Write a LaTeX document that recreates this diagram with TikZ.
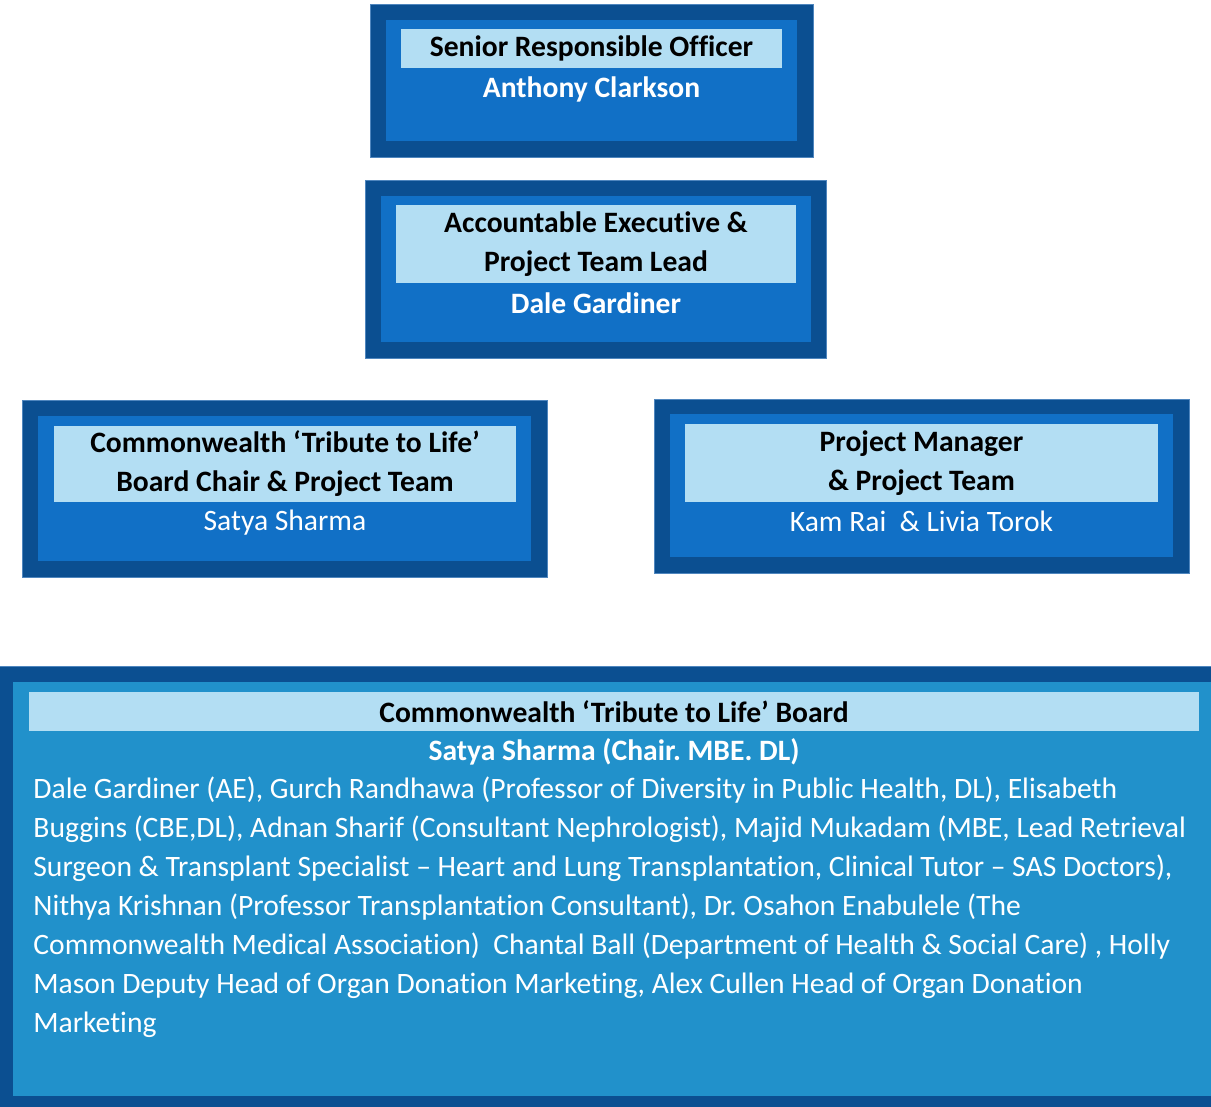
\documentclass[tikz,border=0pt]{standalone}
\usepackage{fontspec}
\setmainfont{Carlito}[Ligatures=NoCommon]
\frenchspacing
\definecolor{outerblue}{HTML}{0B4F91}
\definecolor{edgeblue}{HTML}{4F86BE}
\definecolor{innerblue}{HTML}{1170C6}
\definecolor{boardblue}{HTML}{2191CB}
\definecolor{bandblue}{HTML}{B3DEF3}
\tikzstyle{outerbox} = [rectangle, inner sep=0pt, fill=outerblue, draw=edgeblue, line width=0.4pt]
\tikzstyle{innerbox} = [rectangle, inner sep=0pt, fill=innerblue]
\tikzstyle{band} = [rectangle, inner sep=0pt, fill=bandblue, align=center, font=\bfseries]
\tikzstyle{namebold} = [inner sep=0pt, text=white, font=\bfseries]
\tikzstyle{nameplain} = [inner sep=0pt, text=white]

\begin{document}
\begin{tikzpicture}[x=0.5pt, y=-0.5pt]
    \fontsize{14.8pt}{19.5pt}\selectfont
    \useasboundingbox (0,0) rectangle (1211,1107);

    % Senior Responsible Officer
    \node(srobox) [outerbox, minimum width=221.5pt, minimum height=76.5pt] at (591.5,80.5) {};
    \node(sroinner) [innerbox, minimum width=205.5pt, minimum height=60.5pt] at (591.5,80.5) {};
    \node(srotitle) [band, minimum width=190.5pt, minimum height=19.5pt] at (591.5,48.5) {\raisebox{-1pt}{Senior Responsible Officer}};
    \node(sroname) [namebold] at (591.5,89) {Anthony Clarkson};

    % Accountable Executive
    \node(aebox) [outerbox, minimum width=230.5pt, minimum height=89pt] at (595.5,269) {};
    \node(aeinner) [innerbox, minimum width=215pt, minimum height=73pt] at (596,269) {};
    \node(aetitle) [band, minimum width=200pt, minimum height=39pt] at (596,244) {Accountable Executive \&\\Project Team Lead};
    \node(aename) [namebold] at (596,303) {Dale Gardiner};

    % Board chair
    \node(chairbox) [outerbox, minimum width=262.5pt, minimum height=88.5pt] at (284.5,488.5) {};
    \node(chairinner) [innerbox, minimum width=246.5pt, minimum height=72.5pt] at (284.5,488.5) {};
    \node(chairtitle) [band, minimum width=231pt, minimum height=38pt] at (285,464) {Commonwealth ‘Tribute to Life’\\Board Chair \& Project Team};
    \node(chairname) [nameplain] at (285,523) {Satya Sharma};

    % Project manager
    \node(pmbox) [outerbox, minimum width=267.5pt, minimum height=87pt] at (921.5,486) {};
    \node(pminner) [innerbox, minimum width=251.5pt, minimum height=71.5pt] at (921.5,485.5) {};
    \node(pmtitle) [band, minimum width=236.5pt, minimum height=39pt] at (921.5,463) {Project Manager\\\& Project Team};
    \node(pmname) [nameplain] at (921.5,521) {Kam Rai~ \& Livia Torok};

    % Board
    \node(boardbox) [outerbox, minimum width=610pt, minimum height=220.5pt] at (608,886.5) {};
    \node(boardinner) [innerbox, fill=boardblue, minimum width=600pt, minimum height=207pt] at (613,889) {};
    \node(boardtitle) [band, minimum width=585pt, minimum height=19.5pt] at (614,711.5) {\raisebox{-1pt}{Commonwealth ‘Tribute to Life’ Board}};
    \node(boardchair) [namebold] at (614,752) {Satya Sharma (Chair. MBE. DL)};
    \node(boardlist) [nameplain, anchor=north west, align=left] at (33,776) {Dale Gardiner (AE), Gurch Randhawa (Professor of Diversity in Public Health, DL), Elisabeth\\
        Buggins (CBE,DL), Adnan Sharif (Consultant Nephrologist), Majid Mukadam (MBE, Lead Retrieval\\
        Surgeon \& Transplant Specialist – Heart and Lung Transplantation, Clinical Tutor – SAS Doctors),\\
        Nithya Krishnan (Professor Transplantation Consultant), Dr. Osahon Enabulele (The\\
        Commonwealth Medical Association)~ Chantal Ball (Department of Health \& Social Care) , Holly\\
        Mason Deputy Head of Organ Donation Marketing, Alex Cullen Head of Organ Donation\\
        Marketing};

\end{tikzpicture}
\end{document}
